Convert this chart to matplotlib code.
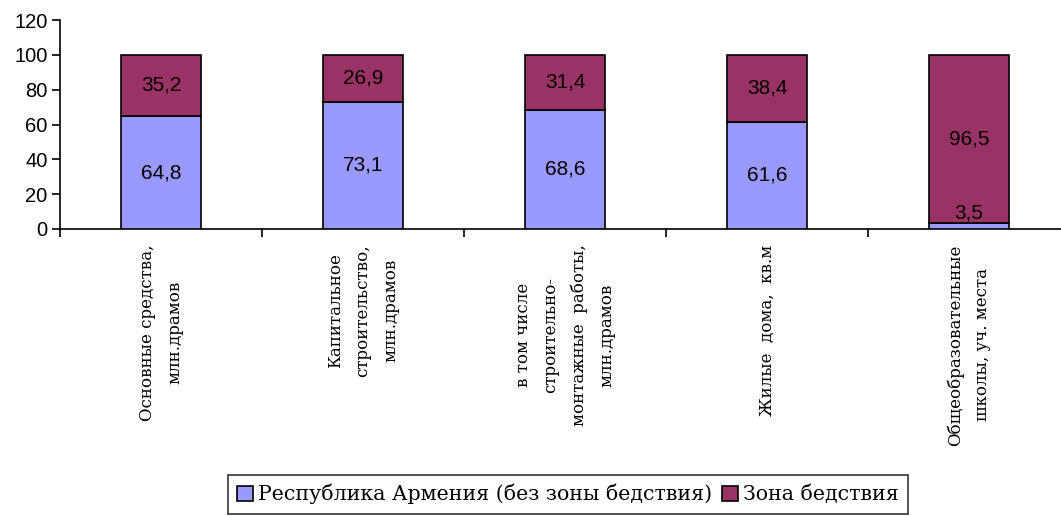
import numpy as np
import matplotlib.pyplot as plt

categories = [
    "Основные средства,\nмлн.драмов",
    "Капитальное\nстроительство,\nмлн.драмов",
    "в том числе\nстроительно-\nмонтажные  работы,\nмлн.драмов",
    "Жилые  дома,  кв.м",
    "Общеобразовательные\nшколы, уч. места",
]
armenia = [64.8, 73.1, 68.6, 61.6, 3.5]
disaster = [35.2, 26.9, 31.4, 38.4, 96.5]
series_names = ["Республика Армения (без зоны бедствия)", "Зона бедствия"]

blue = "#9999ff"
maroon = "#993366"

fig = plt.figure(figsize=(10.61, 5.16), dpi=100)
W, H = 1061, 516
ax = fig.add_axes([60 / W, (516 - 229) / H, 1010 / W, 209 / H])

x = np.arange(len(categories))
width = 0.396
b1 = ax.bar(x, armenia, width, color=blue, edgecolor="black", linewidth=1.2, zorder=3)
b2 = ax.bar(x, disaster, width, bottom=armenia, color=maroon, edgecolor="black",
            linewidth=1.2, zorder=3)

def fmt(v):
    return f"{v:.1f}".replace(".", ",")

for i in range(len(x)):
    ax.text(x[i], max(armenia[i] / 2, 9), fmt(armenia[i]), ha="center", va="center",
            fontsize=15, family="Liberation Sans", zorder=4)
    ax.text(x[i], armenia[i] + disaster[i] / 2, fmt(disaster[i]), ha="center",
            va="center", fontsize=15, family="Liberation Sans", zorder=4)

ax.set_xlim(-0.5, len(categories) - 0.5)
ax.set_ylim(0, 120)
ax.set_yticks(range(0, 121, 20))
ax.tick_params(axis="y", labelsize=14.5, length=6, width=1.2, direction="out", pad=3)
for lab in ax.get_yticklabels():
    lab.set_family("Liberation Sans")

ax.set_xticks(np.arange(-0.5, len(categories), 1.0))
ax.set_xticklabels([])
ax.tick_params(axis="x", length=6, width=1.2, direction="out")

for i, c in enumerate(categories):
    ax.annotate(c, xy=(x[i], 0), xycoords="data", xytext=(0, -11),
                textcoords="offset points", rotation=90, ha="center", va="top",
                multialignment="center", linespacing=1.8, fontsize=12,
                family="DejaVu Serif")

for s in ["top", "right"]:
    ax.spines[s].set_visible(False)
ax.spines["left"].set_linewidth(1.2)
ax.spines["bottom"].set_linewidth(1.2)

leg = fig.legend([b1, b2], series_names, loc="center", bbox_to_anchor=(568 / W, 1 - 494 / H),
                 ncol=2, frameon=True, fancybox=False, edgecolor="black",
                 prop={"family": "DejaVu Serif", "size": 14.8}, handlelength=0.75,
                 handleheight=0.75, handletextpad=0.25, columnspacing=0.5,
                 borderpad=0.45, borderaxespad=0)
leg.get_frame().set_linewidth(1.2)

fig.savefig("out.png", dpi=100)
